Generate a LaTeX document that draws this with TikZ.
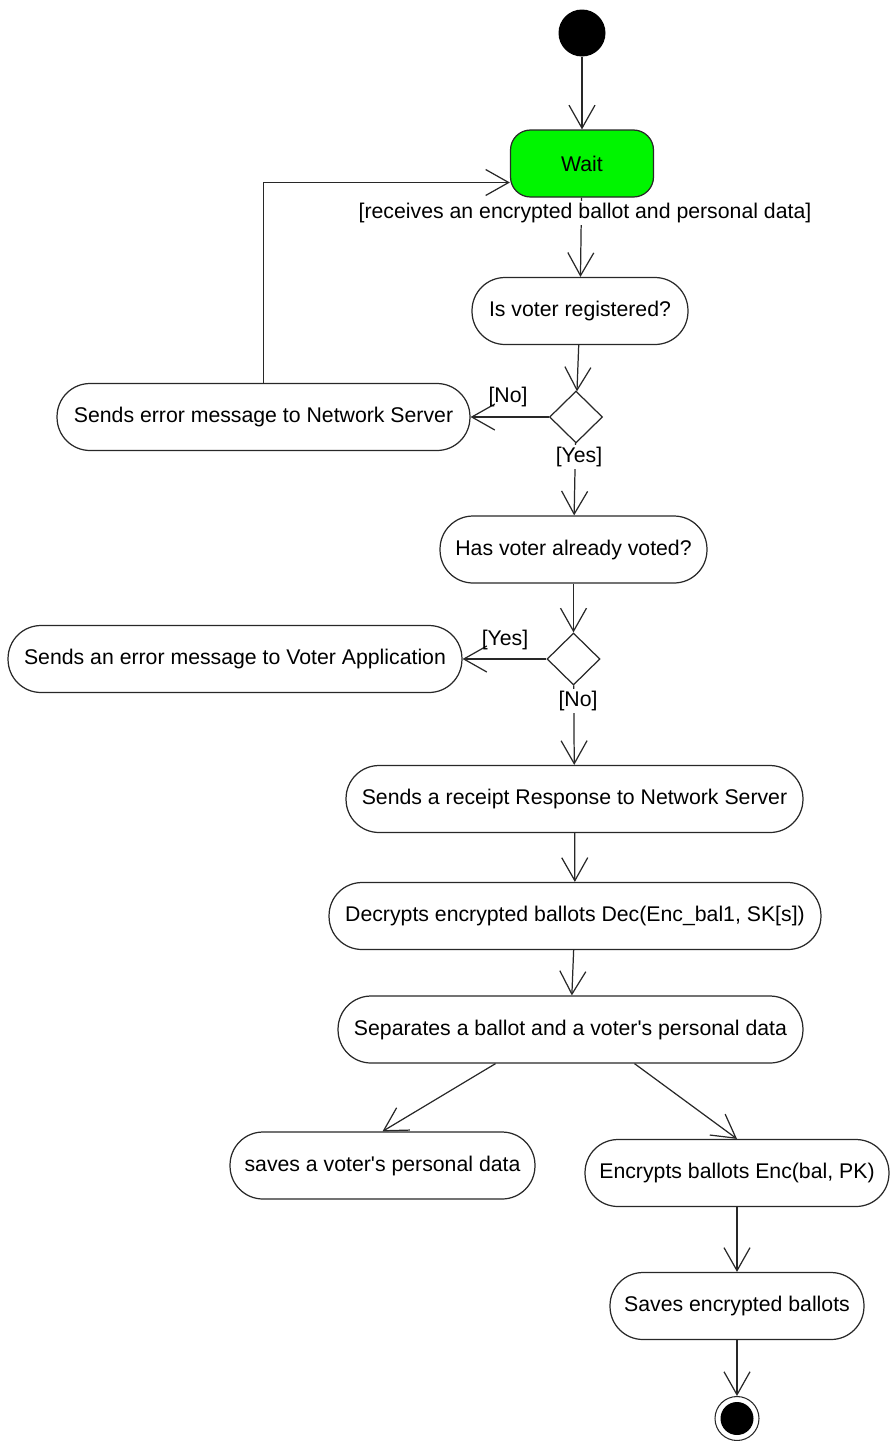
\documentclass[tikz,border=0pt]{standalone}
\usepackage{fontspec}
\setmainfont{Liberation Sans}
\usepackage{tikz}
\usetikzlibrary{shapes.geometric, arrows.meta, positioning, calc}
\definecolor{mydark}{RGB}{40,40,40}
\definecolor{mygreen}{RGB}{0,245,0}
\tikzset{
  action/.style={rectangle, draw=mydark, fill=white, align=center,
    minimum height=1.34cm, inner sep=2pt, rounded corners=0.66cm,
    font=\fontsize{12.1pt}{14pt}\selectfont, line width=0.7pt},
  waitbox/.style={rectangle, draw=mydark, fill=mygreen, align=center,
    minimum width=2.86cm, minimum height=1.34cm, rounded corners=0.4cm,
    font=\fontsize{12.1pt}{14pt}\selectfont, line width=0.7pt},
  decision/.style={diamond, draw=mydark, fill=white, inner sep=0pt,
    minimum width=1.06cm, minimum height=1.04cm, line width=0.7pt},
  startnode/.style={circle, fill=black, minimum size=0.94cm, inner sep=0pt},
  endnode/.style={circle, draw=mydark, fill=white, minimum size=0.88cm,
    inner sep=0pt, line width=0.6pt,
    path picture={\fill[black] (path picture bounding box.center) circle (0.33cm);}},
  guard/.style={font=\fontsize{12.1pt}{14pt}\selectfont, inner sep=1pt, fill=white},
  arrow/.style={-{Straight Barb[length=0.46cm, width=0.52cm]}, line width=0.7pt, color=mydark},
  line/.style={line width=0.7pt, color=mydark}
}
\begin{document}
\begin{tikzpicture}[x=0.02cm, y=-0.02cm]
  \useasboundingbox (0,0) rectangle (890,1441);
  % Start and waiting state
  \node[startnode] (start) at (582,33) {};
  \node[waitbox] (wait) at (582,163.5) {Wait};
  % Registration check
  \node[action, minimum width=4.32cm] (reg) at (580,311) {Is voter registered?};
  \node[decision] (chkReg) at (576,417) {};
  \node[action, minimum width=8.26cm] (errNet) at (263.5,417) {Sends error message to Network Server};
  % Voted check
  \node[action, minimum width=5.34cm] (voted) at (573.5,549.5) {Has voter already voted?};
  \node[decision] (chkVoted) at (573.5,659) {};
  \node[action, minimum width=9.08cm] (errApp) at (235,659) {Sends an error message to Voter Application};
  % Processing
  \node[action, minimum width=9.14cm] (receipt) at (574.5,799) {Sends a receipt Response to Network Server};
  \node[action, minimum width=9.84cm] (decrypt) at (575,916) {Decrypts encrypted ballots Dec(Enc\_bal1, SK[s])};
  \node[action, minimum width=9.30cm] (separate) at (570.5,1029.5) {Separates a ballot and a voter\textquotesingle s personal data};
  \node[action, minimum width=6.10cm] (savePD) at (382.5,1165.5) {saves a voter\textquotesingle s personal data};
  \node[action, minimum width=6.08cm] (encrypt) at (737,1173) {Encrypts ballots Enc(bal, PK)};
  \node[action, minimum width=5.08cm] (saveEnc) at (737,1306) {Saves encrypted ballots};
  \node[endnode] (end) at (737,1418.5) {};
  % Main flow
  \foreach \a/\b in {start/wait, wait/reg, reg/chkReg, chkReg/voted, voted/chkVoted,
      chkVoted/receipt, receipt/decrypt, decrypt/separate, encrypt/saveEnc, saveEnc/end} {
    \draw[arrow] (\a) -- (\b);
  }
  % Branches
  \draw[arrow] (chkReg.west) -- (errNet.east);
  \draw[arrow] (chkVoted.west) -- (errApp.east);
  \draw[arrow] (errNet.north) |- ([yshift=-0.38cm]wait.west);
  \draw[arrow] ([xshift=-1.5cm]separate.south) -- (savePD.north);
  \draw[arrow] ([xshift=1.28cm]separate.south) -- (encrypt.north);
  % Guards
  \node[guard] (gReceive) at (585,213) {[receives an encrypted ballot and personal data]};
  \node[guard, fill=none] (gRegNo) at (508,397) {[No]};
  \node[guard] (gRegYes) at (579,457) {[Yes]};
  \node[guard, fill=none] (gVotedYes) at (505,640) {[Yes]};
  \node[guard] (gVotedNo) at (578,701) {[No]};
\end{tikzpicture}
\end{document}
